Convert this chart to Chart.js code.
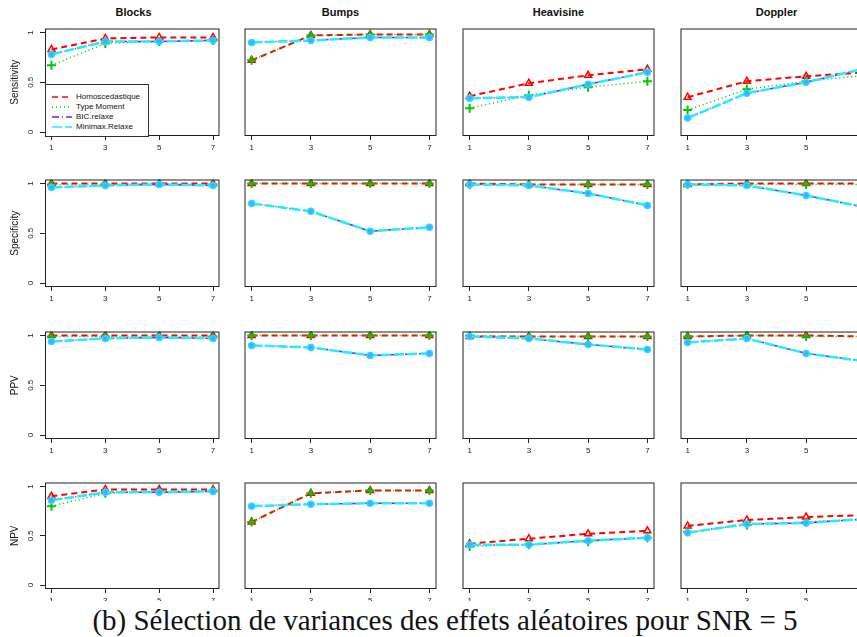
<!DOCTYPE html>
<html>
<head>
<meta charset="utf-8">
<script src="https://cdn.jsdelivr.net/npm/chart.js@4"></script>
<style>
  html, body { margin: 0; padding: 0; background: #fff; }
  body { width: 857px; height: 637px; position: relative; overflow: hidden; font-family: "Liberation Sans", Arial, sans-serif; }
  canvas { position: absolute; }
  .title { position: absolute; font-weight: bold; font-size: 11px; color: #111; text-align: center; }
  #legend { position: absolute; left: 45px; top: 84px; width: 102px; height: 51px; border: 1px solid #333; background: #fff; z-index: 5; }
  .item { position: absolute; left: 6px; height: 10px; font-size: 8px; color: #111; line-height: 10px; }
  .item svg { position: absolute; left: 0; top: 2px; }
  .item span { position: absolute; left: 24px; white-space: nowrap; }
  #caption { position: absolute; left: 0; top: 601px; width: 857px; height: 36px; background: #fff; text-align: center; font-family: "Liberation Serif", "DejaVu Serif", serif; font-size: 29px; line-height: 38px; color: #111; z-index: 6; padding-left: 33px; box-sizing: border-box; white-space: nowrap; }
</style>
</head>
<body>
<div id="legend"></div>
<div id="caption">(b) Sélection de variances des effets aléatoires pour SNR = 5</div>
<script>
// Data
const xValues = [1, 3, 5, 7];
const signals = ["Blocks", "Bumps", "Heavisine", "Doppler"];
const measures = ["Sensitivity", "Specificity", "PPV", "NPV"];
const methods = ["Homoscedastique", "Type Moment", "BIC.relaxe", "Minimax.Relaxe"];
const yTicks = [0, 0.5, 1];

// one row per signal (Blocks, Bumps, Heavisine, Doppler)
const sensHomo = [[0.83, 0.94, 0.95, 0.95], [0.72, 0.97, 0.98, 0.98], [0.36, 0.49, 0.57, 0.63], [0.35, 0.51, 0.56, 0.60]];
const sensMoment = [[0.67, 0.89, 0.91, 0.92], [0.72, 0.97, 0.98, 0.98], [0.24, 0.37, 0.45, 0.51], [0.22, 0.43, 0.51, 0.57]];
const sensBic = [[0.78, 0.91, 0.91, 0.92], [0.90, 0.92, 0.95, 0.95], [0.34, 0.35, 0.48, 0.60], [0.14, 0.39, 0.50, 0.64]];
const sensMinimax = [[0.78, 0.91, 0.91, 0.92], [0.90, 0.92, 0.95, 0.95], [0.34, 0.35, 0.48, 0.60], [0.14, 0.39, 0.50, 0.64]];

const specHomo = [[1.0, 1.0, 1.0, 1.0], [1.0, 1.0, 1.0, 1.0], [1.0, 0.99, 0.99, 0.99], [0.99, 1.0, 1.0, 1.0]];
const specMoment = [[0.99, 0.99, 1.0, 0.99], [1.0, 1.0, 1.0, 1.0], [0.99, 0.99, 0.99, 0.99], [0.99, 0.99, 0.99, 0.99]];
const specBic = [[0.96, 0.98, 0.99, 0.98], [0.80, 0.72, 0.52, 0.56], [0.99, 0.98, 0.90, 0.78], [0.99, 0.98, 0.88, 0.76]];
const specMinimax = [[0.96, 0.98, 0.99, 0.98], [0.80, 0.72, 0.52, 0.56], [0.99, 0.98, 0.90, 0.78], [0.99, 0.98, 0.88, 0.76]];

const ppvHomo = [[1.0, 1.0, 1.0, 1.0], [1.0, 1.0, 1.0, 1.0], [0.99, 0.99, 0.99, 0.99], [0.99, 1.0, 1.0, 0.99]];
const ppvMoment = [[0.99, 0.99, 0.99, 0.99], [1.0, 1.0, 1.0, 1.0], [1.0, 0.99, 0.99, 0.99], [0.99, 1.0, 0.99, 0.99]];
const ppvBic = [[0.94, 0.97, 0.98, 0.97], [0.90, 0.88, 0.80, 0.82], [0.99, 0.97, 0.91, 0.86], [0.93, 0.97, 0.82, 0.74]];
const ppvMinimax = [[0.94, 0.97, 0.98, 0.97], [0.90, 0.88, 0.80, 0.82], [0.99, 0.97, 0.91, 0.86], [0.93, 0.97, 0.82, 0.74]];

const npvHomo = [[0.90, 0.97, 0.97, 0.97], [0.64, 0.93, 0.96, 0.96], [0.42, 0.47, 0.52, 0.55], [0.60, 0.66, 0.69, 0.71]];
const npvMoment = [[0.80, 0.93, 0.95, 0.96], [0.64, 0.93, 0.96, 0.96], [0.39, 0.41, 0.44, 0.48], [0.54, 0.61, 0.64, 0.67]];
const npvBic = [[0.86, 0.94, 0.94, 0.95], [0.80, 0.82, 0.83, 0.83], [0.41, 0.41, 0.45, 0.48], [0.53, 0.62, 0.63, 0.67]];
const npvMinimax = [[0.86, 0.94, 0.94, 0.95], [0.80, 0.82, 0.83, 0.83], [0.41, 0.41, 0.45, 0.48], [0.53, 0.62, 0.63, 0.67]];

const tables = [
  [sensHomo, sensMoment, sensBic, sensMinimax],
  [specHomo, specMoment, specBic, specMinimax],
  [ppvHomo, ppvMoment, ppvBic, ppvMinimax],
  [npvHomo, npvMoment, npvBic, npvMinimax]
];

// Styles
const styles = [
  { color: "#ff0000", dash: [6, 4], width: 2, point: "triangle", fill: "rgba(0,0,0,0)", radius: 4, order: 3 },
  { color: "#00c800", dash: [1, 3], width: 1.5, point: "cross", fill: "#00c800", radius: 4.5, order: 2 },
  { color: "#7a1cff", dash: [7, 3, 1, 3], width: 1.5, point: "crossRot", fill: "#2030ff", radius: 3, order: 1 },
  { color: "#22eeff", dash: [10, 3], width: 2.5, point: "circle", fill: "#4aa8ff", radius: 3, order: 0 }
];

// Layout (box of each panel, in page pixels)
const colBox = [[45, 222], [242, 439], [460, 657], [678, 875]];
const rowBox = [[26, 136], [177, 287], [329, 439], [480, 589]];
const padTop = 4, padRight = 4, xAxisH = 24, yAxisW = 45;
const fontFamily = "'Liberation Sans', Arial, sans-serif";

const boxPlugin = {
  id: "box",
  afterDraw(chart) {
    const a = chart.chartArea;
    const ctx = chart.ctx;
    ctx.save();
    ctx.strokeStyle = "#222";
    ctx.lineWidth = 1;
    ctx.strokeRect(a.left + 0.5, a.top + 0.5, a.right - a.left - 1, a.bottom - a.top - 1);
    if (chart.options.plugins.box.yLabels) {
      const y = chart.scales.y;
      ctx.fillStyle = "#222";
      ctx.font = "8px " + fontFamily;
      ctx.textAlign = "center";
      ctx.textBaseline = "middle";
      yTicks.forEach(v => {
        ctx.save();
        ctx.translate(a.left - 14, y.getPixelForValue(v));
        ctx.rotate(-Math.PI / 2);
        ctx.fillText(String(v), 0, 0);
        ctx.restore();
      });
    }
    ctx.restore();
  }
};

function makePanel(r, c) {
  const [bl, br] = colBox[c];
  const [bt, bb] = rowBox[r];
  const leftW = c === 0 ? yAxisW : 4;
  const canvas = document.createElement("canvas");
  const w = br - bl + leftW + padRight;
  const h = bb - bt + padTop + xAxisH;
  canvas.width = w;
  canvas.height = h;
  canvas.style.left = (bl - leftW) + "px";
  canvas.style.top = (bt - padTop) + "px";
  canvas.style.width = w + "px";
  canvas.style.height = h + "px";
  document.body.appendChild(canvas);

  const datasets = methods.map((m, k) => {
    const s = styles[k];
    return {
      label: m,
      data: xValues.map((x, i) => ({ x: x, y: tables[r][k][c][i] })),
      borderColor: s.color,
      borderDash: s.dash,
      borderWidth: s.width,
      pointStyle: s.point,
      pointRadius: s.radius,
      pointBorderColor: k === 3 ? "#22ddff" : s.color,
      pointBackgroundColor: s.fill,
      pointBorderWidth: k === 1 ? 2 : 1.5,
      order: s.order,
      tension: 0
    };
  });

  return new Chart(canvas, {
    type: "line",
    data: { datasets: datasets },
    options: {
      animation: false,
      responsive: false,
      devicePixelRatio: 1,
      layout: { padding: { top: padTop, right: padRight, left: c === 0 ? 0 : 4, bottom: 0 } },
      plugins: { legend: { display: false }, tooltip: { enabled: false }, box: { yLabels: c === 0 } },
      scales: {
        x: {
          type: "linear",
          min: 0.76,
          max: 7.24,
          afterBuildTicks: s => { s.ticks = xValues.map(v => ({ value: v })); },
          afterFit: s => { s.height = xAxisH; },
          grid: { drawOnChartArea: false, drawTicks: true, tickLength: 4, color: "#222" },
          border: { display: false },
          ticks: { font: { size: 8, family: fontFamily }, color: "#222", padding: 3, maxRotation: 0, autoSkip: false, callback: v => String(v) }
        },
        y: {
          type: "linear",
          min: -0.04,
          max: 1.04,
          display: c === 0,
          afterBuildTicks: s => { s.ticks = yTicks.map(v => ({ value: v })); },
          afterFit: s => { s.width = c === 0 ? yAxisW : 0; },
          grid: { drawOnChartArea: false, drawTicks: true, tickLength: 5, color: "#222" },
          border: { display: false },
          ticks: { display: false },
          title: { display: true, text: measures[r], font: { size: 10, family: fontFamily }, color: "#111", padding: { top: 9, bottom: 0 } }
        }
      }
    },
    plugins: [boxPlugin]
  });
}

// Titles
signals.forEach((name, c) => {
  const d = document.createElement("div");
  d.className = "title";
  d.textContent = name;
  d.style.left = colBox[c][0] + "px";
  d.style.width = (colBox[c][1] - colBox[c][0]) + "px";
  d.style.top = "6px";
  document.body.appendChild(d);
});

for (let r = 0; r < 4; r++) {
  for (let c = 0; c < 4; c++) makePanel(r, c);
}

// Legend
const legend = document.querySelector("#legend");
methods.forEach((m, k) => {
  const s = styles[k];
  const item = document.createElement("div");
  item.className = "item";
  item.style.top = (7 + k * 10) + "px";
  item.innerHTML = `<svg width="20" height="6"><line x1="0" y1="3" x2="20" y2="3" stroke="${s.color}" stroke-width="${Math.min(s.width, 1.5)}" stroke-dasharray="${s.dash.join(",")}"/></svg><span>${m}</span>`;
  legend.appendChild(item);
});
</script>
</body>
</html>
